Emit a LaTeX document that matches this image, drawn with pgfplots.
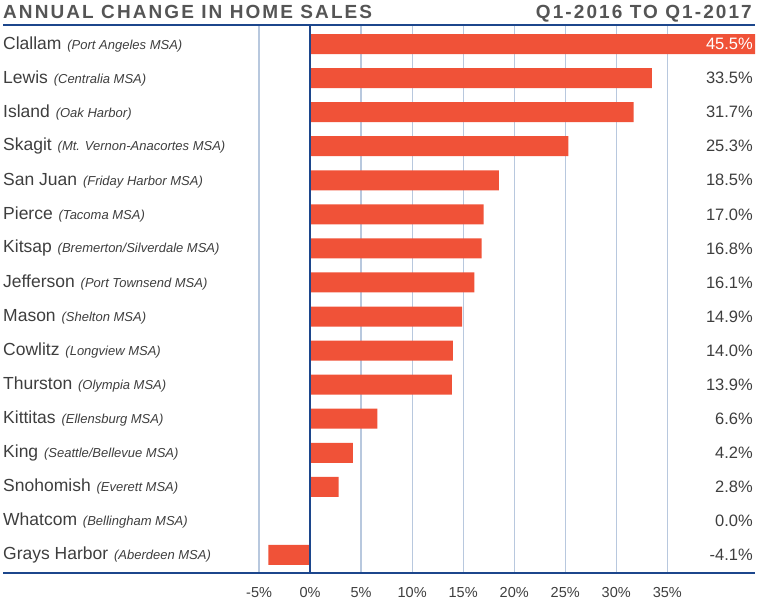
\documentclass[border=0pt]{standalone}
\usepackage{pgfplots}
\pgfplotsset{compat=1.18}
\usepackage{fontspec}
\setmainfont{Liberation Sans}
\definecolor{barred}{RGB}{240,82,56}
\definecolor{navy}{RGB}{28,70,140}
\definecolor{gridblue}{RGB}{184,200,222}
\definecolor{txt}{RGB}{62,62,62}
\definecolor{ttl}{RGB}{85,85,85}
\newcommand{\cat}[2]{\fontsize{17.5}{17.5}\selectfont #1\hspace{1pt} {\fontsize{13}{13}\selectfont\itshape (#2)}}

\begin{document}
\begin{tikzpicture}
\useasboundingbox (0,0) rectangle (760pt,613pt);
\begin{axis}[
  at={(3pt,40pt)}, anchor=south west,
  scale only axis, width=752pt, height=548pt,
  xmin=-30.1, xmax=43.6, ymin=0.47, ymax=16.56,
  xtick={-5,0,...,35},
  xticklabels={-5\%,0\%,5\%,10\%,15\%,20\%,25\%,30\%,35\%},
  ytick={1,...,16},
  yticklabels={
    \cat{Grays Harbor}{Aberdeen MSA},
    \cat{Whatcom}{Bellingham MSA},
    \cat{Snohomish}{Everett MSA},
    \cat{King}{Seattle/Bellevue MSA},
    \cat{Kittitas}{Ellensburg MSA},
    \cat{Thurston}{Olympia MSA},
    \cat{Cowlitz}{Longview MSA},
    \cat{Mason}{Shelton MSA},
    \cat{Jefferson}{Port Townsend MSA},
    \cat{Kitsap}{Bremerton/Silverdale MSA},
    \cat{Pierce}{Tacoma MSA},
    \cat{San Juan}{Friday Harbor MSA},
    \cat{Skagit}{Mt. Vernon-Anacortes MSA},
    \cat{Island}{Oak Harbor},
    \cat{Lewis}{Centralia MSA},
    \cat{Clallam}{Port Angeles MSA}},
  major tick length=0pt,
  ymajorgrids=false, xmajorgrids,
  grid style={gridblue, line width=1.3pt},
  axis line style={draw=none},
  xticklabel style={font=\fontsize{14.5}{14.5}\selectfont, text=txt, yshift=-11pt},
  yticklabel style={anchor=west, text=txt, inner sep=0pt},
  ]
  \addplot[xbar, bar width=20pt, bar shift=0pt, fill=barred, draw=none]
  coordinates {
    (-4.1,1) (0,2) (2.8,3) (4.2,4) (6.6,5) (13.9,6) (14.0,7) (14.9,8)
    (16.1,9) (16.8,10) (17.0,11) (18.5,12) (25.3,13) (31.7,14) (33.5,15) (45.5,16)
  };
  \addplot[draw=none, mark=none, nodes near coords, point meta=explicit symbolic,
    nodes near coords style={anchor=east, text=txt, inner sep=2pt,
      font=\fontsize{16.5}{16.5}\selectfont}]
  coordinates {
    (43.6,1) [-4.1\%] (43.6,2) [0.0\%] (43.6,3) [2.8\%] (43.6,4) [4.2\%]
    (43.6,5) [6.6\%] (43.6,6) [13.9\%] (43.6,7) [14.0\%] (43.6,8) [14.9\%]
    (43.6,9) [16.1\%] (43.6,10) [16.8\%] (43.6,11) [17.0\%] (43.6,12) [18.5\%]
    (43.6,13) [25.3\%] (43.6,14) [31.7\%] (43.6,15) [33.5\%]
  };
  \addplot[draw=none, mark=none, nodes near coords, point meta=explicit symbolic,
    nodes near coords style={anchor=east, text=white, inner sep=2pt,
      font=\fontsize{16.5}{16.5}\selectfont}]
  coordinates {(43.6,16) [45.5\%]};
  \draw[navy, line width=2pt] (axis cs:0,0.47) -- (axis cs:0,16.56);
  \draw[navy, line width=2pt] (rel axis cs:0,1) -- (rel axis cs:1,1);
  \draw[navy, line width=2.5pt] (rel axis cs:0,0) -- (rel axis cs:1,0);
\end{axis}
\node[anchor=base west, inner sep=0pt, text=ttl,
  font=\fontsize{19}{19}\selectfont\bfseries\addfontfeature{LetterSpace=11}]
  at (3pt,594pt) {ANNUAL CHANGE IN HOME SALES};
\node[anchor=base east, inner sep=0pt, text=ttl,
  font=\fontsize{19}{19}\selectfont\bfseries\addfontfeature{LetterSpace=11}]
  at (752pt,594pt) {Q1-2016 TO Q1-2017};
\end{tikzpicture}
\end{document}
